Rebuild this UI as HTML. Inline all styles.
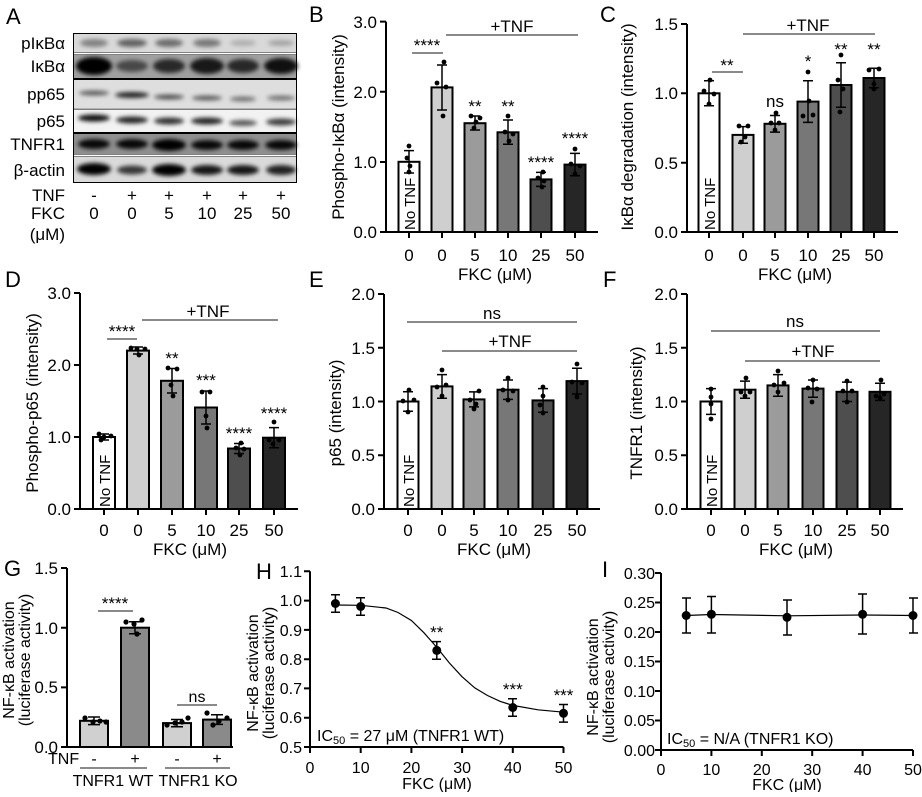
<!DOCTYPE html>
<html><head><meta charset="utf-8"><style>
body{margin:0;background:#fff}
svg text{font-family:"Liberation Sans",Arial,sans-serif;fill:#000}
.t{font-size:17px}.s{font-size:15px}.m{font-size:16px}.st{font-size:17px}.L{font-size:22px}
.ax{stroke:#000;stroke-width:2;fill:none}
.ln{stroke:#444;stroke-width:1.3}
.eb{stroke:#000;stroke-width:1.5;fill:none}
.b{stroke:#000;stroke-width:2}
</style></head><body>
<svg width="922" height="792" viewBox="0 0 922 792" xmlns="http://www.w3.org/2000/svg">
<defs><filter id="bl" x="-50%" y="-100%" width="200%" height="300%"><feGaussianBlur stdDeviation="2.2"/></filter></defs>

<!-- Panel A -->
<text class="L" x="6" y="24">A</text>
<g>
<rect x="73" y="33" width="224" height="150" fill="#000"/>
<rect x="74" y="34" width="222" height="18" fill="#d9d9d9"/>
<rect x="74" y="55" width="222" height="23" fill="#a0a0a0"/>
<rect x="74" y="80" width="222" height="28" fill="#dedede"/>
<rect x="74" y="110" width="222" height="22" fill="#f2f2f2"/>
<rect x="74" y="134" width="222" height="20" fill="#8f8f8f"/>
<rect x="74" y="157" width="222" height="25" fill="#dadada"/>
<rect x="74" y="52.5" width="222" height="2" fill="#fff"/>
<rect x="74" y="108.3" width="222" height="1.2" fill="#fff"/>
<rect x="74" y="154.5" width="222" height="2" fill="#fff"/>
<g filter="url(#bl)" fill="#000">
<ellipse cx="94" cy="43" rx="14" ry="4" opacity=".4"/><ellipse cx="132" cy="43" rx="15" ry="4" opacity=".55"/><ellipse cx="169" cy="43" rx="14" ry="4" opacity=".5"/><ellipse cx="207" cy="43" rx="14" ry="4" opacity=".45"/><ellipse cx="243" cy="43" rx="13" ry="3" opacity=".2"/><ellipse cx="281" cy="43" rx="13" ry="3" opacity=".25"/>
<ellipse cx="94" cy="66" rx="18" ry="9" opacity="1"/><ellipse cx="132" cy="66" rx="16" ry="6" opacity=".55"/><ellipse cx="169" cy="66" rx="16" ry="7" opacity=".75"/><ellipse cx="207" cy="66" rx="17" ry="8" opacity=".85"/><ellipse cx="243" cy="66" rx="16" ry="7" opacity=".75"/><ellipse cx="281" cy="66" rx="17" ry="8" opacity=".9"/>
<ellipse cx="94" cy="93" rx="15" ry="2.5" opacity=".6"/><ellipse cx="132" cy="95" rx="17" ry="3" opacity=".85"/><ellipse cx="169" cy="97" rx="15" ry="2.5" opacity=".65"/><ellipse cx="207" cy="98" rx="15" ry="2.5" opacity=".6"/><ellipse cx="243" cy="99" rx="13" ry="2.5" opacity=".5"/><ellipse cx="281" cy="98" rx="14" ry="2.5" opacity=".5"/>
<ellipse cx="94" cy="118" rx="16" ry="3.5" opacity=".95"/><ellipse cx="132" cy="120" rx="16" ry="3.5" opacity=".85"/><ellipse cx="169" cy="121" rx="15" ry="3.5" opacity=".8"/><ellipse cx="207" cy="121" rx="16" ry="3.5" opacity=".85"/><ellipse cx="243" cy="123" rx="14" ry="3" opacity=".65"/><ellipse cx="281" cy="122" rx="15" ry="3.5" opacity=".75"/>
<ellipse cx="94" cy="144" rx="16" ry="5" opacity=".95"/><ellipse cx="132" cy="144" rx="16" ry="5" opacity=".95"/><ellipse cx="169" cy="145" rx="17" ry="6" opacity="1"/><ellipse cx="207" cy="145" rx="16" ry="5" opacity=".95"/><ellipse cx="243" cy="145" rx="16" ry="5" opacity=".95"/><ellipse cx="281" cy="145" rx="16" ry="5" opacity=".95"/>
<ellipse cx="94" cy="169" rx="17" ry="6" opacity="1"/><ellipse cx="132" cy="170" rx="15" ry="4.5" opacity=".75"/><ellipse cx="169" cy="170" rx="17" ry="6" opacity="1"/><ellipse cx="207" cy="170" rx="16" ry="5" opacity=".9"/><ellipse cx="243" cy="170" rx="16" ry="5" opacity=".9"/><ellipse cx="281" cy="170" rx="15" ry="5" opacity=".85"/>
</g>
</g>
<g class="t" text-anchor="end">
<text x="65" y="49">pIκBα</text><text x="65" y="72">IκBα</text><text x="65" y="100">pp65</text><text x="65" y="127">p65</text><text x="65" y="150">TNFR1</text><text x="65" y="176">β-actin</text>
<text x="65" y="201">TNF</text><text x="65" y="219">FKC</text><text x="65" y="240">(μM)</text>
</g>
<g class="t" text-anchor="middle">
<text x="94" y="201">-</text><text x="132" y="201">+</text><text x="169" y="201">+</text><text x="207" y="201">+</text><text x="243" y="201">+</text><text x="281" y="201">+</text>
<text x="94" y="219">0</text><text x="132" y="219">0</text><text x="169" y="219">5</text><text x="207" y="219">10</text><text x="243" y="219">25</text><text x="281" y="219">50</text>
</g>

<!-- Panel B -->
<text class="L" x="309" y="22">B</text>
<g>
<rect class="b" x="398.5" y="161.8" width="21" height="70.2" fill="#fff"/>
<rect class="b" x="431.5" y="87.4" width="21" height="144.6" fill="#cfcfcf"/>
<rect class="b" x="464.5" y="123.2" width="21" height="108.8" fill="#9b9b9b"/>
<rect class="b" x="497.5" y="132.3" width="21" height="99.7" fill="#777"/>
<rect class="b" x="530.5" y="179.4" width="21" height="52.6" fill="#4e4e4e"/>
<rect class="b" x="564.5" y="164.6" width="21" height="67.4" fill="#262626"/>
<path class="eb" d="M409 150.6V173M404 150.6h10M404 173h10 M442 65V110M437 65h10M437 110h10 M475 116V130M470 116h10M470 130h10 M508 120V144.3M503 120h10M503 144.3h10 M541 172.4V186.4M536 172.4h10M536 186.4h10 M575 153.4V175.8M570 153.4h10M570 175.8h10"/>
<g fill="#000"><circle cx="409" cy="146" r="2.4"/><circle cx="407" cy="158" r="2.4"/><circle cx="410" cy="166" r="2.4"/><circle cx="409" cy="172" r="2.4"/>
<circle cx="444" cy="62" r="2.4"/><circle cx="437" cy="83" r="2.4"/><circle cx="446" cy="87" r="2.4"/><circle cx="443" cy="116" r="2.4"/>
<circle cx="471" cy="116" r="2.4"/><circle cx="480" cy="118" r="2.4"/><circle cx="476" cy="122" r="2.4"/><circle cx="474" cy="128" r="2.4"/>
<circle cx="508" cy="116" r="2.4"/><circle cx="505" cy="132" r="2.4"/><circle cx="513" cy="134" r="2.4"/><circle cx="509" cy="141" r="2.4"/>
<circle cx="543" cy="172" r="2.4"/><circle cx="538" cy="178" r="2.4"/><circle cx="544" cy="181" r="2.4"/><circle cx="542" cy="187" r="2.4"/>
<circle cx="575" cy="149" r="2.4"/><circle cx="571" cy="164" r="2.4"/><circle cx="580" cy="166" r="2.4"/><circle cx="575" cy="174" r="2.4"/></g>
<path class="ax" d="M386 21.6V232H598 M380 21.6h6M380 91.8h6M380 162h6M380 232h6 M409 232v6M442 232v6M475 232v6M508 232v6M541 232v6M575 232v6"/>
<g class="t" text-anchor="end"><text x="377" y="28">3.0</text><text x="377" y="98">2.0</text><text x="377" y="168">1.0</text><text x="377" y="238">0.0</text></g>
<g class="t" text-anchor="middle"><text x="409" y="261">0</text><text x="442" y="261">0</text><text x="475" y="261">5</text><text x="508" y="261">10</text><text x="541" y="261">25</text><text x="575" y="261">50</text><text x="495" y="280">FKC (μM)</text></g>
<text class="t" transform="translate(344,127) rotate(-90)" text-anchor="middle">Phospho-IκBα (intensity)</text>
<text class="s" transform="translate(415,230) rotate(-90)">No TNF</text>
<path class="ln" d="M412 53H443 M446 35H578"/>
<g class="st" text-anchor="middle"><text x="427" y="51">****</text><text x="512" y="32" class="t">+TNF</text>
<text x="475" y="112">**</text><text x="508" y="112">**</text><text x="541" y="168">****</text><text x="575" y="144">****</text></g>
</g>

<!-- Panel C -->
<text class="L" x="600" y="22">C</text>
<g>
<rect class="b" x="698.5" y="93.3" width="21" height="138.7" fill="#fff"/>
<rect class="b" x="732.5" y="134.9" width="21" height="97.1" fill="#cfcfcf"/>
<rect class="b" x="764.5" y="123.8" width="21" height="108.2" fill="#9b9b9b"/>
<rect class="b" x="797.5" y="101.6" width="21" height="130.4" fill="#777"/>
<rect class="b" x="830.5" y="85" width="21" height="147" fill="#4e4e4e"/>
<rect class="b" x="863.5" y="78" width="21" height="154" fill="#262626"/>
<path class="eb" d="M709 80.8V105.8M704 80.8h10M704 105.8h10 M743 126.6V143.2M738 126.6h10M738 143.2h10 M775 115.5V132.1M770 115.5h10M770 132.1h10 M808 80.8V122.4M803 80.8h10M803 122.4h10 M841 62.8V107.2M836 62.8h10M836 107.2h10 M874 68.3V87.7M869 68.3h10M869 87.7h10"/>
<g fill="#000"><circle cx="710" cy="80" r="2.4"/><circle cx="704" cy="91" r="2.4"/><circle cx="714" cy="94" r="2.4"/><circle cx="709" cy="104" r="2.4"/>
<circle cx="739" cy="126" r="2.4"/><circle cx="748" cy="126" r="2.4"/><circle cx="745" cy="137" r="2.4"/><circle cx="741" cy="142" r="2.4"/>
<circle cx="776" cy="113" r="2.4"/><circle cx="771" cy="123" r="2.4"/><circle cx="779" cy="123" r="2.4"/><circle cx="775" cy="130" r="2.4"/>
<circle cx="808" cy="72" r="2.4"/><circle cx="809" cy="101" r="2.4"/><circle cx="803" cy="116" r="2.4"/><circle cx="813" cy="115" r="2.4"/>
<circle cx="841" cy="55" r="2.4"/><circle cx="838" cy="80" r="2.4"/><circle cx="843" cy="89" r="2.4"/><circle cx="840" cy="112" r="2.4"/>
<circle cx="879" cy="69" r="2.4"/><circle cx="869" cy="70" r="2.4"/><circle cx="874" cy="84" r="2.4"/><circle cx="874" cy="89" r="2.4"/></g>
<path class="ax" d="M687 24V232H898 M681 24h6M681 93.3h6M681 162.7h6M681 232h6 M709 232v6M743 232v6M775 232v6M808 232v6M841 232v6M874 232v6"/>
<g class="t" text-anchor="end"><text x="678" y="30">1.5</text><text x="678" y="99">1.0</text><text x="678" y="169">0.5</text><text x="678" y="238">0.0</text></g>
<g class="t" text-anchor="middle"><text x="709" y="261">0</text><text x="743" y="261">0</text><text x="775" y="261">5</text><text x="808" y="261">10</text><text x="841" y="261">25</text><text x="874" y="261">50</text><text x="795" y="280">FKC (μM)</text></g>
<text class="t" transform="translate(633,127) rotate(-90)" text-anchor="middle">IκBα degradation (intensity)</text>
<text class="s" transform="translate(715,230) rotate(-90)">No TNF</text>
<path class="ln" d="M712 72H743 M743 34H875"/>
<g class="st" text-anchor="middle"><text x="727" y="71">**</text><text x="808" y="31" class="t">+TNF</text>
<text x="775" y="107" class="t">ns</text><text x="808" y="67">*</text><text x="841" y="55">**</text><text x="874" y="55">**</text></g>
</g>

<!-- Panel D -->
<text class="L" x="5" y="287">D</text>
<g>
<rect class="b" x="93" y="437" width="22" height="72" fill="#fff"/>
<rect class="b" x="127" y="350.6" width="22" height="158.4" fill="#cfcfcf"/>
<rect class="b" x="161" y="380.8" width="22" height="128.2" fill="#9b9b9b"/>
<rect class="b" x="195" y="407.5" width="22" height="101.5" fill="#777"/>
<rect class="b" x="228" y="448.5" width="22" height="60.5" fill="#4e4e4e"/>
<rect class="b" x="263" y="437.7" width="22" height="71.3" fill="#262626"/>
<path class="eb" d="M104 434V440M99 434h10M99 440h10 M138 347V354M133 347h10M133 354h10 M172 368.5V393M167 368.5h10M167 393h10 M206 391V424M201 391h10M201 424h10 M239 443.5V453.5M234 443.5h10M234 453.5h10 M274 427.6V447.8M269 427.6h10M269 447.8h10"/>
<g fill="#000"><circle cx="99" cy="434" r="2.4"/><circle cx="104" cy="437" r="2.4"/><circle cx="111" cy="436" r="2.4"/><circle cx="101" cy="440" r="2.4"/>
<circle cx="131" cy="348" r="2.4"/><circle cx="137" cy="349" r="2.4"/><circle cx="145" cy="349" r="2.4"/><circle cx="139" cy="355" r="2.4"/>
<circle cx="168" cy="368" r="2.4"/><circle cx="177" cy="369" r="2.4"/><circle cx="171" cy="385" r="2.4"/><circle cx="173" cy="396" r="2.4"/>
<circle cx="202" cy="392" r="2.4"/><circle cx="210" cy="392" r="2.4"/><circle cx="206" cy="416" r="2.4"/><circle cx="207" cy="428" r="2.4"/>
<circle cx="241" cy="443" r="2.4"/><circle cx="236" cy="448" r="2.4"/><circle cx="244" cy="449" r="2.4"/><circle cx="240" cy="455" r="2.4"/>
<circle cx="274" cy="422" r="2.4"/><circle cx="269" cy="440" r="2.4"/><circle cx="279" cy="440" r="2.4"/><circle cx="273" cy="444" r="2.4"/></g>
<path class="ax" d="M80 293V509H298 M74 293h6M74 365h6M74 437h6M74 509h6 M104 509v6M138 509v6M172 509v6M206 509v6M239 509v6M274 509v6"/>
<g class="t" text-anchor="end"><text x="71" y="299">3.0</text><text x="71" y="371">2.0</text><text x="71" y="443">1.0</text><text x="71" y="515">0.0</text></g>
<g class="t" text-anchor="middle"><text x="104" y="536">0</text><text x="138" y="536">0</text><text x="172" y="536">5</text><text x="206" y="536">10</text><text x="239" y="536">25</text><text x="274" y="536">50</text><text x="190" y="555">FKC (μM)</text></g>
<text class="t" transform="translate(38,403) rotate(-90)" text-anchor="middle">Phospho-p65 (intensity)</text>
<text class="s" transform="translate(110,507) rotate(-90)">No TNF</text>
<path class="ln" d="M107 339H137 M142 320H278"/>
<g class="st" text-anchor="middle"><text x="122" y="337">****</text><text x="208" y="317" class="t">+TNF</text>
<text x="172" y="364">**</text><text x="206" y="386">***</text><text x="239" y="439">****</text><text x="274" y="419">****</text></g>
</g>

<!-- Panel E -->
<text class="L" x="309" y="287">E</text>
<g>
<rect class="b" x="397.5" y="401.5" width="21" height="107.5" fill="#fff"/>
<rect class="b" x="431.5" y="386.4" width="21" height="122.6" fill="#cfcfcf"/>
<rect class="b" x="463.5" y="399.4" width="21" height="109.6" fill="#9b9b9b"/>
<rect class="b" x="497.5" y="389.7" width="21" height="119.3" fill="#777"/>
<rect class="b" x="532.5" y="400.4" width="21" height="108.6" fill="#4e4e4e"/>
<rect class="b" x="566.5" y="381.1" width="21" height="127.9" fill="#262626"/>
<path class="eb" d="M408 391.8V411.2M403 391.8h10M403 411.2h10 M442 374.6V398.2M437 374.6h10M437 398.2h10 M474 391.9V406.9M469 391.9h10M469 406.9h10 M508 380V399.4M503 380h10M503 399.4h10 M543 388.6V412.2M538 388.6h10M538 412.2h10 M577 368.2V394M572 368.2h10M572 394h10"/>
<g fill="#000"><circle cx="409" cy="390" r="2.4"/><circle cx="403" cy="401" r="2.4"/><circle cx="414" cy="400" r="2.4"/><circle cx="408" cy="412" r="2.4"/>
<circle cx="442" cy="370" r="2.4"/><circle cx="437" cy="387" r="2.4"/><circle cx="446" cy="385" r="2.4"/><circle cx="442" cy="396" r="2.4"/>
<circle cx="479" cy="391" r="2.4"/><circle cx="470" cy="400" r="2.4"/><circle cx="476" cy="404" r="2.4"/><circle cx="474" cy="409" r="2.4"/>
<circle cx="508" cy="378" r="2.4"/><circle cx="503" cy="390" r="2.4"/><circle cx="513" cy="391" r="2.4"/><circle cx="508" cy="400" r="2.4"/>
<circle cx="543" cy="387" r="2.4"/><circle cx="543" cy="396" r="2.4"/><circle cx="540" cy="405" r="2.4"/><circle cx="543" cy="413" r="2.4"/>
<circle cx="577" cy="364" r="2.4"/><circle cx="572" cy="382" r="2.4"/><circle cx="582" cy="383" r="2.4"/><circle cx="577" cy="397" r="2.4"/></g>
<path class="ax" d="M384 294V509H600 M378 294h6M378 347.8h6M378 401.5h6M378 455.3h6M378 509h6 M408 509v6M442 509v6M474 509v6M508 509v6M543 509v6M577 509v6"/>
<g class="t" text-anchor="end"><text x="375" y="300">2.0</text><text x="375" y="354">1.5</text><text x="375" y="408">1.0</text><text x="375" y="461">0.5</text><text x="375" y="515">0.0</text></g>
<g class="t" text-anchor="middle"><text x="408" y="536">0</text><text x="442" y="536">0</text><text x="474" y="536">5</text><text x="508" y="536">10</text><text x="543" y="536">25</text><text x="577" y="536">50</text><text x="494" y="555">FKC (μM)</text></g>
<text class="t" transform="translate(341,413) rotate(-90)" text-anchor="middle">p65 (intensity)</text>
<text class="s" transform="translate(414,507) rotate(-90)">No TNF</text>
<path class="ln" d="M407 322H577 M442 351H577"/>
<g class="t" text-anchor="middle"><text x="492" y="319">ns</text><text x="510" y="347">+TNF</text></g>
</g>

<!-- Panel F -->
<text class="L" x="603" y="287">F</text>
<g>
<rect class="b" x="700.5" y="401.5" width="21" height="107.5" fill="#fff"/>
<rect class="b" x="734.5" y="389.7" width="21" height="119.3" fill="#cfcfcf"/>
<rect class="b" x="767.5" y="385.4" width="21" height="123.6" fill="#9b9b9b"/>
<rect class="b" x="802.5" y="388.6" width="21" height="120.4" fill="#777"/>
<rect class="b" x="836.5" y="391.8" width="21" height="117.2" fill="#4e4e4e"/>
<rect class="b" x="869.5" y="391.8" width="21" height="117.2" fill="#262626"/>
<path class="eb" d="M711 388.6V414.4M706 388.6h10M706 414.4h10 M745 381.1V398.3M740 381.1h10M740 398.3h10 M778 374.6V396.2M773 374.6h10M773 396.2h10 M813 380V397.2M808 380h10M808 397.2h10 M847 382.1V401.5M842 382.1h10M842 401.5h10 M880 383.2V400.4M875 383.2h10M875 400.4h10"/>
<g fill="#000"><circle cx="711" cy="389" r="2.4"/><circle cx="711" cy="397" r="2.4"/><circle cx="711" cy="404" r="2.4"/><circle cx="711" cy="419" r="2.4"/>
<circle cx="746" cy="378" r="2.4"/><circle cx="741" cy="392" r="2.4"/><circle cx="750" cy="392" r="2.4"/><circle cx="745" cy="396" r="2.4"/>
<circle cx="778" cy="371" r="2.4"/><circle cx="774" cy="385" r="2.4"/><circle cx="784" cy="383" r="2.4"/><circle cx="778" cy="392" r="2.4"/>
<circle cx="813" cy="380" r="2.4"/><circle cx="808" cy="388" r="2.4"/><circle cx="817" cy="389" r="2.4"/><circle cx="812" cy="402" r="2.4"/>
<circle cx="847" cy="381" r="2.4"/><circle cx="843" cy="391" r="2.4"/><circle cx="852" cy="391" r="2.4"/><circle cx="847" cy="402" r="2.4"/>
<circle cx="881" cy="380" r="2.4"/><circle cx="876" cy="396" r="2.4"/><circle cx="884" cy="394" r="2.4"/><circle cx="880" cy="398" r="2.4"/></g>
<path class="ax" d="M687 294V509H903 M681 294h6M681 347.8h6M681 401.5h6M681 455.3h6M681 509h6 M711 509v6M745 509v6M778 509v6M813 509v6M847 509v6M880 509v6"/>
<g class="t" text-anchor="end"><text x="678" y="300">2.0</text><text x="678" y="354">1.5</text><text x="678" y="408">1.0</text><text x="678" y="461">0.5</text><text x="678" y="515">0.0</text></g>
<g class="t" text-anchor="middle"><text x="711" y="536">0</text><text x="745" y="536">0</text><text x="778" y="536">5</text><text x="813" y="536">10</text><text x="847" y="536">25</text><text x="880" y="536">50</text><text x="796" y="555">FKC (μM)</text></g>
<text class="t" transform="translate(642,413) rotate(-90)" text-anchor="middle">TNFR1 (intensity)</text>
<text class="s" transform="translate(717,507) rotate(-90)">No TNF</text>
<path class="ln" d="M711 331H880 M745 361H880"/>
<g class="t" text-anchor="middle"><text x="795" y="327">ns</text><text x="813" y="357">+TNF</text></g>
</g>

<!-- Panel G -->
<text class="L" x="4" y="576">G</text>
<g>
<rect class="b" x="80" y="720.8" width="28" height="26.2" fill="#d0d0d0"/>
<rect class="b" x="121" y="627.7" width="28" height="119.3" fill="#8a8a8a"/>
<rect class="b" x="163" y="723.1" width="28" height="23.9" fill="#d0d0d0"/>
<rect class="b" x="203" y="719.6" width="28" height="27.4" fill="#8a8a8a"/>
<path class="eb" d="M94 717V724.6M88 717h12M88 724.6h12 M135 621.7V633.7M129 621.7h12M129 633.7h12 M177 719.5V726.7M171 719.5h12M171 726.7h12 M217 714.8V724.4M211 714.8h12M211 724.4h12"/>
<g fill="#000"><circle cx="85" cy="718" r="2.6"/><circle cx="93" cy="722" r="2.6"/><circle cx="100" cy="721" r="2.6"/><circle cx="106" cy="722" r="2.6"/>
<circle cx="126" cy="622" r="2.6"/><circle cx="134" cy="624" r="2.6"/><circle cx="142" cy="620" r="2.6"/><circle cx="137" cy="634" r="2.6"/>
<circle cx="167" cy="725" r="2.6"/><circle cx="175" cy="723" r="2.6"/><circle cx="182" cy="722" r="2.6"/><circle cx="188" cy="718" r="2.6"/>
<circle cx="207" cy="713" r="2.6"/><circle cx="213" cy="725" r="2.6"/><circle cx="219" cy="721" r="2.6"/><circle cx="227" cy="718" r="2.6"/></g>
<path class="ax" d="M67 568V747H233 M61 568h6M61 627.7h6M61 687.4h6M61 747h6"/>
<g class="t" text-anchor="end"><text x="58" y="574">1.5</text><text x="58" y="634">1.0</text><text x="58" y="693">0.5</text><text x="58" y="753">0.0</text></g>
<path class="ln" d="M98 611H133 M177 705H217 M80 768H147 M165 768H230"/>
<g class="m" text-anchor="middle"><text x="115" y="609" class="st">****</text><text x="197" y="702">ns</text>
<text x="94" y="764">-</text><text x="135" y="764">+</text><text x="177" y="764">-</text><text x="217" y="764">+</text>
<text x="113" y="786">TNFR1 WT</text><text x="198" y="786">TNFR1 KO</text></g>
<text class="m" x="48" y="764">TNF</text>
<g class="m" text-anchor="middle"><text transform="translate(14,660) rotate(-90)">NF-κB activation</text><text transform="translate(30,660) rotate(-90)">(luciferase activity)</text></g>
</g>

<!-- Panel H -->
<text class="L" x="256" y="579">H</text>
<g>
<path class="ax" d="M310 571.3V747H563.5 M304 571.3h6M304 600.6h6M304 629.9h6M304 659.2h6M304 688.4h6M304 717.7h6M304 747h6 M310 747v6M360.7 747v6M411.4 747v6M462.1 747v6M512.8 747v6M563.5 747v6"/>
<g class="m" text-anchor="end"><text x="302" y="577">1.1</text><text x="302" y="606">1.0</text><text x="302" y="636">0.9</text><text x="302" y="665">0.8</text><text x="302" y="694">0.7</text><text x="302" y="723">0.6</text><text x="302" y="753">0.5</text></g>
<g class="m" text-anchor="middle"><text x="310" y="773">0</text><text x="360.7" y="773">10</text><text x="411.4" y="773">20</text><text x="462.1" y="773">30</text><text x="512.8" y="773">40</text><text x="563.5" y="773">50</text><text x="437" y="789">FKC (μM)</text></g>
<polyline fill="none" stroke="#000" stroke-width="1.2" points="335.4,605 360.7,605.3 386,608 398,612.5 411.4,620.5 424,632.8 436.8,647.4 449.4,663 462,676.7 474.8,687.9 487.5,695.5 500,701.3 512.8,705.4 538,709.8 563.5,712.2"/>
<path class="eb" d="M335.4 594.7V612.3M331 594.7h9M331 612.3h9 M360.7 597.7V615.3M356 597.7h9M356 615.3h9 M436.8 641.6V659.2M432 641.6h9M432 659.2h9 M512.8 698.7V716.3M508 698.7h9M508 716.3h9 M563.5 704.5V722.1M559 704.5h9M559 722.1h9"/>
<g fill="#000"><circle cx="335.4" cy="603.5" r="4.5"/><circle cx="360.7" cy="606.5" r="4.5"/><circle cx="436.8" cy="650.4" r="4.5"/><circle cx="512.8" cy="707.5" r="4.5"/><circle cx="563.5" cy="713.3" r="4.5"/></g>
<g class="st" text-anchor="middle"><text x="436.8" y="638">**</text><text x="512.8" y="695">***</text><text x="563.5" y="701">***</text></g>
<text class="m" x="317" y="741">IC<tspan font-size="11" dy="3">50</tspan><tspan dy="-3"> = 27 μM (TNFR1 WT)</tspan></text>
<g class="m" text-anchor="middle"><text transform="translate(258,673) rotate(-90)">NF-κB activation</text><text transform="translate(274,673) rotate(-90)">(luciferase activity)</text></g>
</g>

<!-- Panel I -->
<text class="L" x="602" y="577">I</text>
<g>
<path class="ax" d="M661 573V750H913 M655 573h6M655 602.5h6M655 632h6M655 661.5h6M655 691h6M655 720.5h6M655 750h6 M661 750v6M711.4 750v6M761.8 750v6M812.2 750v6M862.6 750v6M913 750v6"/>
<g class="m" text-anchor="end"><text x="655" y="579">0.30</text><text x="655" y="608">0.25</text><text x="655" y="638">0.20</text><text x="655" y="667">0.15</text><text x="655" y="697">0.10</text><text x="655" y="726">0.05</text><text x="655" y="756">0.00</text></g>
<g class="m" text-anchor="middle"><text x="661" y="775">0</text><text x="711.4" y="775">10</text><text x="761.8" y="775">20</text><text x="812.2" y="775">30</text><text x="862.6" y="775">40</text><text x="913" y="775">50</text><text x="787" y="790">FKC (μM)</text></g>
<polyline fill="none" stroke="#000" stroke-width="1.2" points="686.2,615.5 711.4,614.5 787,615.8 862.6,615 913,615.5"/>
<path class="eb" d="M686.2 598V633M682 598h9M682 633h9 M711.4 596.5V633M707 596.5h9M707 633h9 M787 600V635M783 600h9M783 635h9 M862.6 594V634M858 594h9M858 634h9 M913 598V633M909 598h9M909 633h9"/>
<g fill="#000"><circle cx="686.2" cy="615.5" r="4.5"/><circle cx="711.4" cy="614.3" r="4.5"/><circle cx="787" cy="617.3" r="4.5"/><circle cx="862.6" cy="614.3" r="4.5"/><circle cx="913" cy="615.5" r="4.5"/></g>
<text class="m" x="667" y="744">IC<tspan font-size="11" dy="3">50</tspan><tspan dy="-3"> = N/A (TNFR1 KO)</tspan></text>
<g class="m" text-anchor="middle"><text transform="translate(598,677) rotate(-90)">NF-κB activation</text><text transform="translate(614,677) rotate(-90)">(luciferase activity)</text></g>
</g>
</svg>
</body></html>
